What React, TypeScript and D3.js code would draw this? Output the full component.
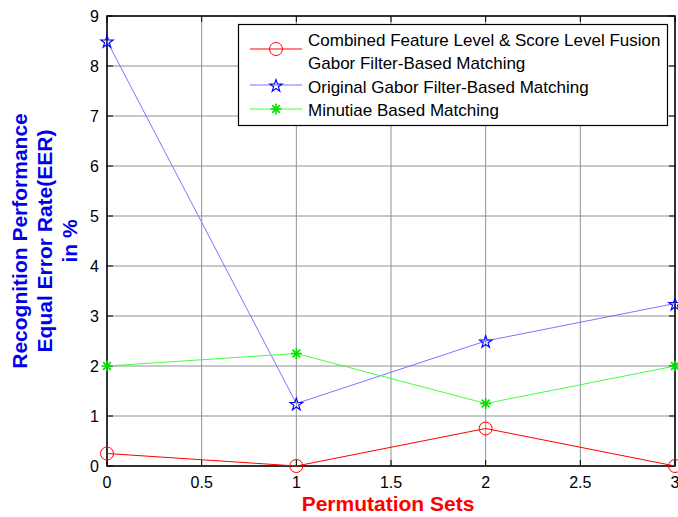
import React, { useEffect, useRef } from "react";
import * as d3 from "d3";

const permSets = [0, 1, 2, 3];
const combinedEER = [0.25, 0, 0.75, 0];
const gaborEER = [8.5, 1.25, 2.5, 3.25];
const minutiaeEER = [2, 2.25, 1.25, 2];
const xTicks = [0, 0.5, 1, 1.5, 2, 2.5, 3];
const yTicks = [0, 1, 2, 3, 4, 5, 6, 7, 8, 9];

const drawChart = (node: SVGSVGElement) => {
  const svg = d3.select(node);
  svg.selectAll("*").remove();

  const left = 107;
  const right = 675;
  const top = 16;
  const bottom = 466;
  const font = "Arial, 'Liberation Sans', sans-serif";

  const x = d3.scaleLinear().domain([0, 3]).range([left, right]);
  const y = d3.scaleLinear().domain([0, 9]).range([bottom, top]);

  svg.append("rect").attr("width", 678).attr("height", 517).attr("fill", "#fff");

  // grid
  const grid = svg.append("g").attr("stroke", "#777").attr("stroke-width", 1).attr("opacity", 0.8);
  grid.selectAll(".gx").data(xTicks).enter().append("line")
    .attr("x1", (d) => x(d)).attr("x2", (d) => x(d)).attr("y1", top).attr("y2", bottom);
  grid.selectAll(".gy").data(yTicks).enter().append("line")
    .attr("y1", (d) => y(d)).attr("y2", (d) => y(d)).attr("x1", left).attr("x2", right);

  // box
  svg.append("rect").attr("x", left).attr("y", top).attr("width", right - left).attr("height", bottom - top)
    .attr("fill", "none").attr("stroke", "#000").attr("stroke-width", 1.5);

  // ticks (inside, all four sides)
  const tk = svg.append("g").attr("stroke", "#000").attr("stroke-width", 1);
  xTicks.forEach((d) => {
    tk.append("line").attr("x1", x(d)).attr("x2", x(d)).attr("y1", bottom).attr("y2", bottom - 6);
    tk.append("line").attr("x1", x(d)).attr("x2", x(d)).attr("y1", top).attr("y2", top + 6);
  });
  yTicks.forEach((d) => {
    tk.append("line").attr("y1", y(d)).attr("y2", y(d)).attr("x1", left).attr("x2", left + 6);
    tk.append("line").attr("y1", y(d)).attr("y2", y(d)).attr("x1", right).attr("x2", right - 6);
  });

  svg.append("g").selectAll("text").data(xTicks).enter().append("text")
    .attr("x", (d) => x(d)).attr("y", bottom + 22).attr("text-anchor", "middle")
    .attr("font-family", font).attr("font-size", 16).text((d) => String(d));
  svg.append("g").selectAll("text").data(yTicks).enter().append("text")
    .attr("x", left - 8).attr("y", (d) => y(d) + 6).attr("text-anchor", "end")
    .attr("font-family", font).attr("font-size", 16).text((d) => String(d));

  // series
  const line = d3.line<number>().x((_, i) => x(permSets[i])).y((d) => y(d));
  const series = [
    { data: combinedEER, color: "#ff0000", mcolor: "#ff0000", marker: "circle" },
    { data: gaborEER, color: "#7777ff", mcolor: "#0000ff", marker: "star" },
    { data: minutiaeEER, color: "#44ff44", mcolor: "#00e000", marker: "asterisk" },
  ];

  const star = d3.symbol().type(d3.symbolStar).size(48)();

  const drawMarker = (g: d3.Selection<SVGGElement, unknown, null, undefined>, kind: string, cx: number, cy: number, color: string) => {
    if (kind === "circle") {
      g.append("circle").attr("cx", cx).attr("cy", cy).attr("r", 6.5)
        .attr("fill", "none").attr("stroke", color).attr("stroke-width", 1);
    } else if (kind === "star") {
      g.append("path").attr("d", star).attr("transform", `translate(${cx},${cy + 1})`)
        .attr("fill", "none").attr("stroke", color).attr("stroke-width", 1.1);
    } else {
      const r = 5.5;
      [0, 45, 90, 135].forEach((a) => {
        const rad = (a * Math.PI) / 180;
        g.append("line").attr("x1", cx - r * Math.sin(rad)).attr("y1", cy - r * Math.cos(rad))
          .attr("x2", cx + r * Math.sin(rad)).attr("y2", cy + r * Math.cos(rad))
          .attr("stroke", color).attr("stroke-width", 1.6);
      });
    }
  };

  series.forEach((s) => {
    const g = svg.append("g");
    g.append("path").attr("d", line(s.data)).attr("fill", "none").attr("stroke", s.color).attr("stroke-width", 1);
    s.data.forEach((v, i) => drawMarker(g, s.marker, x(permSets[i]), y(v), s.mcolor));
  });

  // legend
  const lg = svg.append("g");
  lg.append("rect").attr("x", 238.5).attr("y", 24.5).attr("width", 429).attr("height", 101)
    .attr("fill", "#fff").attr("stroke", "#000").attr("stroke-width", 1.2);
  const rows = [
    { y: 49, ty: 46, labels: ["Combined Feature Level & Score Level Fusion", "Gabor Filter-Based Matching"] },
    { y: 85, ty: 93, labels: ["Original Gabor Filter-Based Matching"] },
    { y: 109, ty: 116, labels: ["Minutiae Based Matching"] },
  ];
  rows.forEach((r, i) => {
    const s = series[i];
    lg.append("line").attr("x1", 250).attr("x2", 302).attr("y1", r.y).attr("y2", r.y)
      .attr("stroke", s.color).attr("stroke-width", 1);
    drawMarker(lg, s.marker, 276, r.y, s.mcolor);
    r.labels.forEach((t, j) => {
      lg.append("text").attr("x", 308).attr("y", r.ty + j * 23)
        .attr("font-family", font).attr("font-size", 17).text(t);
    });
  });

  // axis labels
  svg.append("text").attr("x", 388).attr("y", 511).attr("text-anchor", "middle")
    .attr("font-family", font).attr("font-size", 21).attr("font-weight", "bold").attr("fill", "#ff0000")
    .text("Permutation Sets");

  const yl = svg.append("text").attr("transform", "translate(0,241) rotate(-90)")
    .attr("text-anchor", "middle").attr("font-family", font).attr("font-size", 21)
    .attr("font-weight", "bold").attr("fill", "#0000ee");
  ["Recognition Performance", "Equal Error Rate(EER)", "in %"].forEach((t, i) => {
    yl.append("tspan").attr("x", 0).attr("y", 27 + i * 25).text(t);
  });
};

export default function App() {
  const ref = useRef<SVGSVGElement>(null);
  useEffect(() => {
    if (ref.current) drawChart(ref.current);
  }, []);
  return (
    <div style={{ position: "absolute", left: 0, top: 0 }}>
      <svg ref={ref} width={678} height={517} style={{ display: "block" }} />
    </div>
  );
}
